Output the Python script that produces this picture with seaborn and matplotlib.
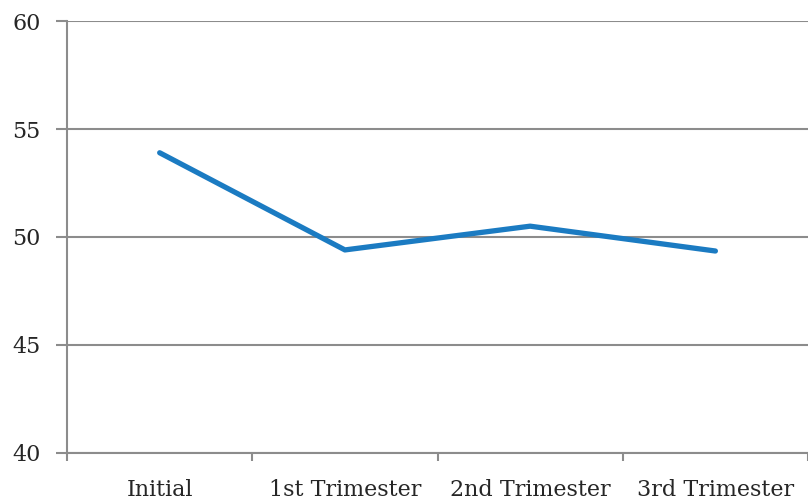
import matplotlib
matplotlib.use("Agg")
import matplotlib.pyplot as plt
import seaborn as sns
import pandas as pd
from matplotlib.ticker import FixedLocator

categories = ["Initial", "1st Trimester", "2nd Trimester", "3rd Trimester"]
values = [53.9, 49.4, 50.5, 49.35]
yticks = [40, 45, 50, 55, 60]

sns.set_style("white")
plt.rcParams['font.family'] = ['DejaVu Serif', 'Liberation Serif']

df = pd.DataFrame({"period": categories, "value": values})

fig = plt.figure(figsize=(8.08, 5.01), dpi=100)
ax = fig.add_axes([0.083, 0.096, 0.917, 0.862])
sns.lineplot(data=df, x="period", y="value", ax=ax, color="#1b7bc2",
             linewidth=3.8, sort=False)

ax.set_ylim(40, 60)
ax.set_xlim(-0.5, len(categories) - 0.5)
ax.set_yticks(yticks)
ax.set_yticklabels([str(v) for v in yticks], fontsize=16)
ax.yaxis.grid(True, color="#8c8c8c", linewidth=1.5)
ax.set_axisbelow(True)

ax.xaxis.set_major_locator(FixedLocator([i - 0.5 for i in range(len(categories) + 1)]))
ax.set_xticklabels([""] * (len(categories) + 1))
ax.xaxis.set_minor_locator(FixedLocator(list(range(len(categories)))))
ax.set_xticklabels(categories, minor=True, fontsize=16)
ax.tick_params(axis="x", which="minor", bottom=True, length=0, pad=19)
ax.tick_params(axis="x", which="major", bottom=True, length=6, width=1.5, color="#8c8c8c", direction="out")
ax.tick_params(axis="y", left=True, length=8, width=1.5, color="#8c8c8c", direction="out", pad=11)

for s in ["top", "right"]:
    ax.spines[s].set_visible(False)
for s in ["left", "bottom"]:
    ax.spines[s].set_color("#8c8c8c")
    ax.spines[s].set_linewidth(1.5)

ax.set_xlabel("")
ax.set_ylabel("")

fig.savefig("out.png", dpi=100)
